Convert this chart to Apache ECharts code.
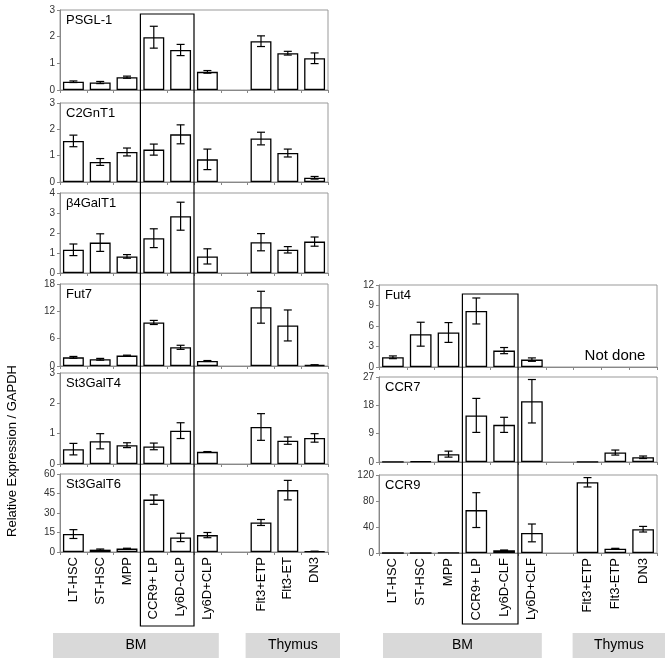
<!DOCTYPE html>
<html>
<head>
<meta charset="utf-8">
<script src="https://cdn.jsdelivr.net/npm/echarts@6/dist/echarts.min.js"></script>
<style>html,body{margin:0;padding:0;background:#fff}#c{width:672px;height:666px}</style>
</head>
<body>
<div id="c"></div>
<script>
// ---- data ----
const catsLeft = ['LT-HSC','ST-HSC','MPP','CCR9+ LP','Ly6D-CLP','Ly6D+CLP','','Flt3+ETP','Flt3-ET','DN3'];
const catsRight = ['LT-HSC','ST-HSC','MPP','CCR9+ LP','Ly6D-CLF','Ly6D+CLF','','Flt3+ETP','Flt3-ETP','DN3'];

const psgl1     = [0.31,0.28,0.48,1.98,1.50,0.68,null,1.83,1.38,1.19];
const psgl1Err  = [0.03,0.04,0.04,0.41,0.21,0.05,null,0.20,0.07,0.20];
const c2gnt1    = [1.56,0.76,1.14,1.23,1.81,0.86,null,1.65,1.10,0.16];
const c2gnt1Err = [0.22,0.13,0.15,0.21,0.36,0.39,null,0.24,0.15,0.05];
const b4galt1   = [1.16,1.52,0.83,1.74,2.84,0.83,null,1.54,1.16,1.57];
const b4galt1Err= [0.29,0.44,0.09,0.47,0.70,0.38,null,0.43,0.16,0.23];
const fut7      = [1.9,1.47,2.28,9.56,4.1,1.1,null,12.9,8.9,0.22];
const fut7Err   = [0.2,0.2,0.1,0.45,0.45,0.1,null,3.5,3.4,0.05];
const st3galt4  = [0.49,0.75,0.62,0.58,1.10,0.40,null,1.22,0.77,0.86];
const st3galt4Err=[0.19,0.25,0.08,0.11,0.26,0.01,null,0.44,0.12,0.14];
const st3galt6  = [13.8,1.8,2.6,40.3,11.2,13.0,null,22.7,47.6,0.5];
const st3galt6Err=[3.4,0.5,0.3,3.6,3.2,2.0,null,2.3,7.5,0.1];
const fut4      = [1.42,4.8,5.05,8.2,2.4,1.08,null,null,null,null];
const fut4Err   = [0.2,1.75,1.45,1.9,0.45,0.25,null,null,null,null];
const ccr7      = [0.05,0.3,2.5,14.8,11.8,19.3,null,0.05,3.0,1.5];
const ccr7Err   = [0,0,0.95,5.4,2.4,6.9,null,0,0.8,0.4];
const ccr9      = [0,0,0.5,66,4.1,30.9,null,108.8,6.7,36.6];
const ccr9Err   = [0,0,0,26.8,0.5,13.7,null,7.2,0.5,4.3];

const yMax      = [3,3,4,18,3,60,12,27,120];
const yInterval = [1,1,1,6,1,15,3,9,40];
const panelNames= ['PSGL-1','C2GnT1','β4GalT1','Fut7','St3GalT4','St3GalT6','Fut4','CCR7','CCR9'];

// ---- layout ----
const FONT = '"Liberation Sans", Arial, Helvetica, sans-serif';
const panels = [
  {vals: psgl1, errs: psgl1Err, side:'L', top:10, bottom:90},
  {vals: c2gnt1, errs: c2gnt1Err, side:'L', top:103, bottom:182},
  {vals: b4galt1, errs: b4galt1Err, side:'L', top:193, bottom:273},
  {vals: fut7, errs: fut7Err, side:'L', top:284, bottom:366},
  {vals: st3galt4, errs: st3galt4Err, side:'L', top:373, bottom:464},
  {vals: st3galt6, errs: st3galt6Err, side:'L', top:474, bottom:552},
  {vals: fut4, errs: fut4Err, side:'R', top:285, bottom:367},
  {vals: ccr7, errs: ccr7Err, side:'R', top:377, bottom:462},
  {vals: ccr9, errs: ccr9Err, side:'R', top:475, bottom:553}
];
const sideGeom = {L:{left:60, width:268}, R:{left:379, width:278}};

const grids=[], xAxes=[], yAxes=[], series=[], titles=[];
panels.forEach((p,i)=>{
  const g = sideGeom[p.side];
  grids.push({left:g.left, width:g.width, top:p.top, height:p.bottom-p.top, show:true, borderColor:'#999', borderWidth:1, backgroundColor:'transparent'});
  const isBottom = (i===5 || i===8);
  xAxes.push({
    type:'category', gridIndex:i, data: p.side==='L'?catsLeft:catsRight,
    axisLine:{show:true, lineStyle:{color:'#888'}},
    axisTick:{show:true, length:3, lineStyle:{color:'#888'}},
    axisLabel:{show:isBottom, interval:0, rotate:90, fontSize:13, color:'#000', margin:5, fontFamily:FONT}
  });
  yAxes.push({
    type:'value', gridIndex:i, min:0, max:yMax[i], interval:yInterval[i],
    axisLine:{show:true, lineStyle:{color:'#888'}},
    axisTick:{show:true, length:3, lineStyle:{color:'#888'}},
    splitLine:{show:false},
    axisLabel:{fontSize:10, color:'#333', margin:5, fontFamily:FONT}
  });
  series.push({
    type:'bar', xAxisIndex:i, yAxisIndex:i, data:p.vals, barWidth:'78%', z:2,
    itemStyle:{color:'#fff', borderColor:'#000', borderWidth:1.3},
    silent:true, animation:false
  });
  const ed = [];
  p.vals.forEach((v,k)=>{ if(v!==null && p.errs[k]) ed.push([k, v, p.errs[k]]); });
  series.push({
    type:'custom', xAxisIndex:i, yAxisIndex:i, data:ed, animation:false, silent:true, z:10,
    renderItem:(params, api)=>{
      const x = api.value(0), v = api.value(1), e = api.value(2);
      const hi = api.coord([x, v+e]);
      const lo = api.coord([x, Math.max(0, v-e)]);
      const cw = 4;
      const st = {stroke:'#000', lineWidth:1.2};
      return {type:'group', children:[
        {type:'line', shape:{x1:hi[0], y1:hi[1], x2:lo[0], y2:lo[1]}, style:st},
        {type:'line', shape:{x1:hi[0]-cw, y1:hi[1], x2:hi[0]+cw, y2:hi[1]}, style:st},
        {type:'line', shape:{x1:lo[0]-cw, y1:lo[1], x2:lo[0]+cw, y2:lo[1]}, style:st}
      ]};
    }
  });
  titles.push({text:panelNames[i], left:g.left+6, top:p.top+4, padding:0,
    textStyle:{fontSize:13, fontWeight:'normal', color:'#000', fontFamily:FONT}});
});

const chart = echarts.init(document.getElementById('c'), null, {renderer:'canvas'});
chart.setOption({
  animation:false,
  title:titles, grid:grids, xAxis:xAxes, yAxis:yAxes, series:series
});

// annotation graphics: band edges from the category band layout (10 bands per axis)
function bandEdges(side, a, b){
  const g = sideGeom[side];
  const bw = g.width / 10;
  return [g.left + bw*a, g.left + bw*(b+1)];
}
const lBox = bandEdges('L',3,4);
const rBox = bandEdges('R',3,4);
const lBM = bandEdges('L',0,5), lTh = bandEdges('L',7,9);
const rBM = bandEdges('R',0,5), rTh = bandEdges('R',7,9);

const gfx = [
  {type:'rect', shape:{x:lBox[0], y:14, width:lBox[1]-lBox[0], height:612}, style:{fill:'none', stroke:'#000', lineWidth:1.2}, z:100},
  {type:'rect', shape:{x:rBox[0], y:294, width:rBox[1]-rBox[0], height:330}, style:{fill:'none', stroke:'#000', lineWidth:1.2}, z:100},
  {type:'text', x:12, y:451, rotation:Math.PI/2, style:{text:'Relative Expression / GAPDH', fill:'#000', font:'13px '+FONT, textAlign:'center', textVerticalAlign:'middle'}},
  {type:'text', x:615, y:356, style:{text:'Not done', fill:'#000', font:'15px '+FONT, textAlign:'center', textVerticalAlign:'middle'}}
];
[[lBM[0]-7, lBM[1]-2, 'BM'], [lTh[0]-2, lTh[1]+12, 'Thymus'], [rBM[0]+4, rBM[1]-4, 'BM'], [rTh[0]-1, rTh[1]+8, 'Thymus']].forEach(b=>{
  gfx.push({type:'rect', shape:{x:b[0], y:633, width:b[1]-b[0], height:25}, style:{fill:'#d9d9d9'}, z:1});
  gfx.push({type:'text', x:(b[0]+b[1])/2, y:645.5, style:{text:b[2], fill:'#000', font:'14px '+FONT, textAlign:'center', textVerticalAlign:'middle'}, z:2});
});
chart.setOption({graphic:gfx});
</script>
</body>
</html>
